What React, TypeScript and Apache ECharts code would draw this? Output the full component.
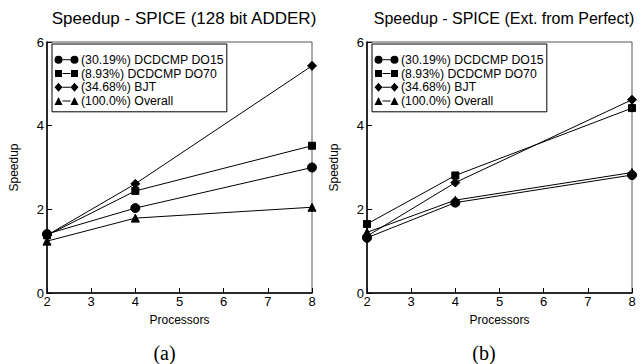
import React, { useEffect, useRef } from "react";
import * as echarts from "echarts";

const processors = [2, 4, 8];
const seriesNames = [
  "(30.19%) DCDCMP DO15",
  "(8.93%) DCDCMP DO70",
  "(34.68%) BJT",
  "(100.0%) Overall",
];
const symbols = ["circle", "rect", "diamond", "triangle"];
const symbolSizes = [9, 7, 9, 8];

// (a) 128 bit ADDER
const adderDO15 = [1.41, 2.03, 3.0];
const adderDO70 = [1.38, 2.44, 3.52];
const adderBJT = [1.38, 2.61, 5.43];
const adderOverall = [1.24, 1.79, 2.05];

// (b) Ext. from Perfect
const extDO15 = [1.32, 2.16, 2.82];
const extDO70 = [1.65, 2.81, 4.42];
const extBJT = [1.36, 2.64, 4.62];
const extOverall = [1.45, 2.22, 2.88];

const titles = ["Speedup - SPICE (128 bit ADDER)", "Speedup - SPICE (Ext. from Perfect)"];
const captions = ["(a)", "(b)"];
const yTicks = { min: 0, max: 6, interval: 2 };
const xTicks = { min: 2, max: 8, interval: 1 };

const FONT = "'Liberation Sans', Arial, Helvetica, sans-serif";

// legend icons: marker — line — marker, in a 25x10 box
const BOX = "M0,0 L0.01,0 L0,0.01 Z M25,10 L24.99,10 L25,9.99 Z ";
const LINE = "M8.5,4.5 L16.5,4.5 L16.5,5.5 L8.5,5.5 Z ";
const legendIcons = [
  "path://" + BOX + LINE +
    "M0.5,5 A4,4 0 1,0 8.5,5 A4,4 0 1,0 0.5,5 Z M16.5,5 A4,4 0 1,0 24.5,5 A4,4 0 1,0 16.5,5 Z",
  "path://" + BOX + LINE +
    "M1,1.5 L8,1.5 L8,8.5 L1,8.5 Z M17,1.5 L24,1.5 L24,8.5 L17,8.5 Z",
  "path://" + BOX + LINE +
    "M4.5,0.5 L8.5,5 L4.5,9.5 L0.5,5 Z M20.5,0.5 L24.5,5 L20.5,9.5 L16.5,5 Z",
  "path://" + BOX + LINE +
    "M4.5,1 L8.5,9 L0.5,9 Z M20.5,1 L24.5,9 L16.5,9 Z",
];

export default function App() {
  const ref = useRef<HTMLDivElement>(null);
  useEffect(() => {
    document.body.style.margin = "0";
    if (!ref.current) return;
    const chart = echarts.init(ref.current, null, { renderer: "svg" });
    const panels = [
      [adderDO15, adderDO70, adderBJT, adderOverall],
      [extDO15, extDO70, extBJT, extOverall],
    ];
    const gridLefts = [47, 367];
    const grids = gridLefts.map((l) => ({
      left: l,
      width: 265,
      top: 42,
      height: 251,
      show: true,
      borderColor: "#555",
      borderWidth: 1,
      backgroundColor: "#fff",
    }));
    const xAxes = gridLefts.map((_, i) => ({
      type: "value" as const,
      gridIndex: i,
      min: xTicks.min,
      max: xTicks.max,
      interval: xTicks.interval,
      name: "Processors",
      nameLocation: "middle" as const,
      nameGap: 21,
      nameTextStyle: { fontFamily: FONT, fontSize: 12, color: "#000" },
      axisLine: { lineStyle: { color: "#000", width: 1.5 } },
      axisTick: { inside: true, length: 5, lineStyle: { color: "#000" } },
      axisLabel: { fontFamily: FONT, fontSize: 13, color: "#000", margin: 2 },
      splitLine: { show: false },
    }));
    const yAxes = gridLefts.map((_, i) => ({
      type: "value" as const,
      gridIndex: i,
      min: yTicks.min,
      max: yTicks.max,
      interval: yTicks.interval,
      name: "Speedup",
      nameLocation: "middle" as const,
      nameGap: 27,
      nameTextStyle: { fontFamily: FONT, fontSize: 12, color: "#000" },
      axisLine: { lineStyle: { color: "#000", width: 1.5 } },
      axisTick: { inside: true, length: 5, lineStyle: { color: "#000" } },
      axisLabel: { fontFamily: FONT, fontSize: 13, color: "#000", margin: 3 },
      splitLine: { show: false },
    }));
    const series: any[] = [];
    panels.forEach((panel, p) => {
      panel.forEach((vals, k) => {
        series.push({
          type: "line",
          name: seriesNames[k],
          xAxisIndex: p,
          yAxisIndex: p,
          data: processors.map((x, j) => [x, vals[j]]),
          symbol: symbols[k],
          symbolSize: symbolSizes[k],
          showAllSymbol: true,
          lineStyle: { color: "#000", width: 1 },
          itemStyle: { color: "#000", borderColor: "#000" },
          emphasis: { disabled: true },
        });
      });
    });
    const legends = gridLefts.map((l) => ({
      data: seriesNames.map((n, k) => ({ name: n, icon: legendIcons[k] })),
      orient: "vertical" as const,
      left: l + 5,
      top: 44,
      itemWidth: 25,
      itemHeight: 10,
      itemGap: 0,
      symbolKeepAspect: true,
      padding: [9, 3, 4, 2],
      borderColor: "#000",
      borderWidth: 1,
      backgroundColor: "#fff",
      selectedMode: false,
      itemStyle: { color: "#000", borderWidth: 0 },
      lineStyle: { width: 0 },
      textStyle: {
        fontFamily: FONT,
        fontSize: 12.3,
        lineHeight: 13.7,
        color: "#000",
        padding: [0, 0, 0, -3],
      },
    }));
    chart.setOption({
      animation: false,
      backgroundColor: "#fff",
      title: [
        { text: titles[0], left: 179, fs: 17 },
        { text: titles[1], left: 499, fs: 16 },
      ].map((t) => ({
        text: t.text,
        left: t.left,
        top: 5,
        textAlign: "center",
        textStyle: { fontFamily: FONT, fontSize: t.fs, fontWeight: "normal", color: "#000" },
      })),
      grid: grids,
      xAxis: xAxes,
      yAxis: yAxes,
      legend: legends,
      series,
      graphic: [
        { text: captions[0], x: 164.5 },
        { text: captions[1], x: 484 },
      ].map((c) => ({
        type: "text",
        x: c.x,
        y: 353,
        style: {
          text: c.text,
          font: "20px 'Liberation Serif', 'Times New Roman', serif",
          fill: "#000",
          align: "center",
          verticalAlign: "middle",
        },
      })),
    });
    return () => chart.dispose();
  }, []);
  return <div ref={ref} style={{ width: 640, height: 364 }} />;
}
